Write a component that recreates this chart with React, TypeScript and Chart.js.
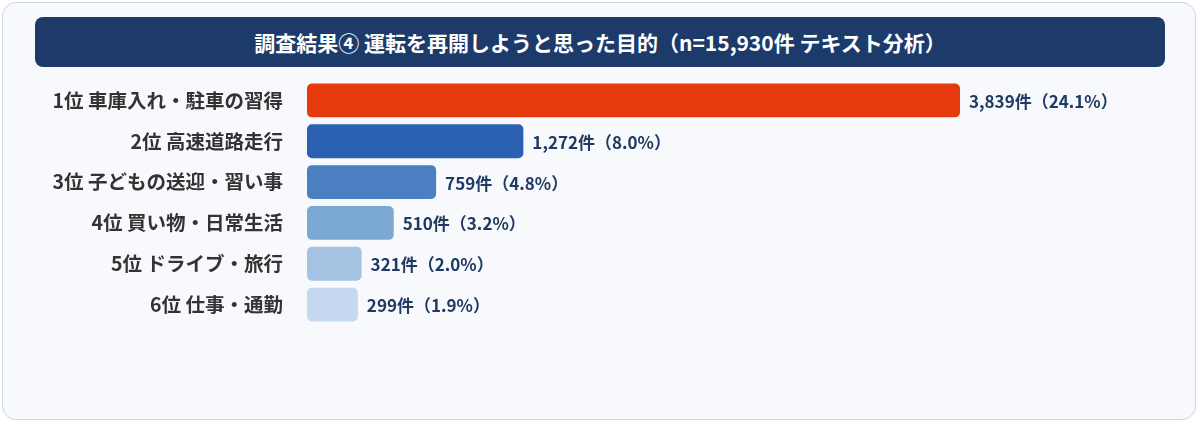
import React, { useEffect, useRef } from "react";
import { Chart, registerables } from "chart.js";

Chart.register(...registerables);

const titleText = "調査結果④ 運転を再開しようと思った目的（n=15,930件 テキスト分析）";
const categories = [
  "1位 車庫入れ・駐車の習得",
  "2位 高速道路走行",
  "3位 子どもの送迎・習い事",
  "4位 買い物・日常生活",
  "5位 ドライブ・旅行",
  "6位 仕事・通勤",
];
const counts = [3839, 1272, 759, 510, 321, 299];
const percents = [24.1, 8.0, 4.8, 3.2, 2.0, 1.9];
const barColors = ["#e5390e", "#2a62b1", "#4a80c2", "#7ba9d3", "#a4c2e2", "#c6d8f0"];

const FONT = "'Noto Sans CJK JP', 'Noto Sans', sans-serif";

const valueLabelPlugin = {
  id: "valueLabels",
  afterDatasetsDraw(chart: any) {
    const ctx = chart.ctx;
    const meta = chart.getDatasetMeta(0);
    ctx.save();
    ctx.font = `bold 17px ${FONT}`;
    ctx.fillStyle = "#1f3b63";
    ctx.textAlign = "left";
    ctx.textBaseline = "middle";
    meta.data.forEach((bar: any, i: number) => {
      const text = `${counts[i].toLocaleString("en-US")}件（${percents[i].toFixed(1)}%）`;
      ctx.fillText(text, bar.x + 9, bar.y + 1);
    });
    ctx.restore();
  },
};

export default function App() {
  const canvasRef = useRef<HTMLCanvasElement>(null);

  useEffect(() => {
    document.body.style.margin = "0";
    const chart = new Chart(canvasRef.current!, {
      type: "bar",
      data: {
        labels: categories,
        datasets: [
          {
            data: counts,
            backgroundColor: barColors,
            borderRadius: 5,
            borderSkipped: false,
            barPercentage: 0.83,
            categoryPercentage: 1,
          },
        ],
      },
      options: {
        indexAxis: "y",
        animation: false,
        responsive: false,
        maintainAspectRatio: false,
        layout: { padding: { left: 0, right: 42.5, top: 0, bottom: 0 } },
        plugins: {
          legend: { display: false },
          tooltip: { enabled: false },
        },
        scales: {
          x: {
            display: false,
            min: 0,
            max: 5000,
          },
          y: {
            grid: { display: false, drawTicks: false },
            border: { display: false },
            ticks: {
              padding: 24,
              color: "#333333",
              font: { family: FONT, size: 19.5, weight: "bold" },
            },
            afterFit(scale: any) {
              scale.width = 307;
              scale.paddingTop = 0;
              scale.paddingBottom = 0;
            },
          },
        },
      },
      plugins: [valueLabelPlugin],
    });
    return () => chart.destroy();
  }, []);

  return (
    <div style={{ position: "relative", width: 1200, height: 423, fontFamily: FONT }}>
      <div
        style={{
          position: "absolute",
          left: 2,
          top: 2,
          width: 1192,
          height: 416,
          border: "1.5px solid #cdd6e4",
          borderRadius: 14,
          background: "#f7f9fc",
        }}
      />
      <div
        style={{
          position: "absolute",
          left: 35,
          top: 17,
          width: 1130,
          height: 50,
          borderRadius: 8,
          background: "#1c3a6a",
          color: "#ffffff",
          fontWeight: "bold",
          fontSize: 21,
          lineHeight: "50px",
          textAlign: "center",
        }}
      >
        {titleText}
      </div>
      <canvas
        ref={canvasRef}
        width={1200}
        height={245}
        style={{ position: "absolute", left: 0, top: 80, width: 1200, height: 245 }}
      />
    </div>
  );
}
